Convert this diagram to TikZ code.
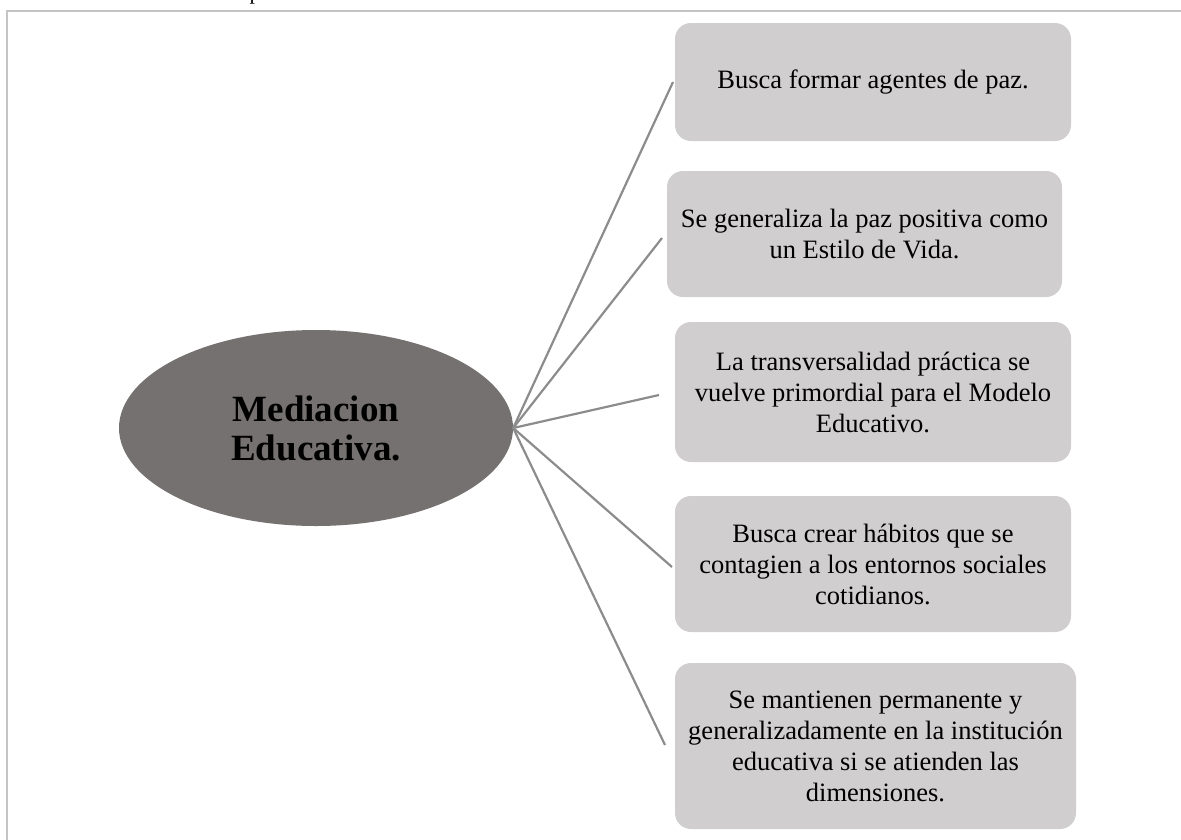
\documentclass[tikz,border=0pt]{standalone}
\usepackage{fontspec}
\setmainfont{Liberation Serif}
\usetikzlibrary{shapes.geometric}
\definecolor{boxgray}{HTML}{D0CECE}
\definecolor{ellgray}{HTML}{767171}
\definecolor{linegray}{HTML}{8C8C8C}
\definecolor{framegray}{HTML}{C4C4C4}
\tikzset{
  itembox/.style={fill=boxgray, draw=none, rounded corners=16pt, align=center, inner sep=0pt,
    font=\fontsize{26.5}{31}\selectfont, text=black},
  hub/.style={ellipse, fill=ellgray, draw=none, inner sep=0pt, minimum width=394pt, minimum height=196pt,
    align=center, font=\fontsize{37}{39}\selectfont\bfseries, text=black},
  spoke/.style={draw=linegray, line width=2.2pt},
  frame/.style={draw=framegray, line width=2pt}
}
\begin{document}
\begin{tikzpicture}[x=1pt,y=-1pt]
\useasboundingbox (0,0) rectangle (1181,839);
\begin{scope}
\clip (0,0) rectangle (1181,839);
\node[anchor=base, font=\fontsize{22}{26}\selectfont, inner sep=0pt] (frag) at (255,-1) {p};
\end{scope}
\draw[frame] (1182,11) -- (7,11) -- (7,840);

\node[hub] (hub) at (316,428) {Mediacion\\Educativa.};

\node[itembox, minimum width=396pt, minimum height=118pt] (b1) at (873,82) {Busca formar agentes de paz.};
\node[itembox, minimum width=395pt, minimum height=126pt] (b2) at (864.5,234) {Se generaliza la paz positiva como\\un Estilo de Vida.};
\node[itembox, minimum width=396pt, minimum height=140pt] (b3) at (873,392) {La transversalidad práctica se\\vuelve primordial para el Modelo\\Educativo.};
\node[itembox, minimum width=396pt, minimum height=136pt] (b4) at (873,564) {Busca crear hábitos que se\\contagien a los entornos sociales\\cotidianos.};
\node[itembox, minimum width=401pt, minimum height=166pt] (b5) at (875.5,746) {Se mantienen permanente y\\generalizadamente en la institución\\educativa si se atienden las\\dimensiones.};

\coordinate (e1) at (673,82);
\coordinate (e2) at (662,238);
\coordinate (e3) at (659,395);
\coordinate (e4) at (672,567);
\coordinate (e5) at (665,745);

\draw[spoke] (hub.east) -- (e1);
\draw[spoke] (hub.east) -- (e2);
\draw[spoke] (hub.east) -- (e3);
\draw[spoke] (hub.east) -- (e4);
\draw[spoke] (hub.east) -- (e5);
\end{tikzpicture}
\end{document}
